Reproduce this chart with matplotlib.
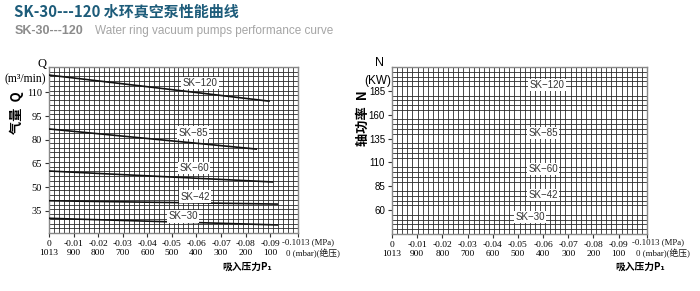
import matplotlib
matplotlib.use('Agg')
import matplotlib.pyplot as plt
import numpy as np

# ---------------- data ----------------
models = ['SK-120', 'SK-85', 'SK-60', 'SK-42', 'SK-30']
# suction pressure (MPa, gauge) at start / end of each Q curve
p_start = [0.0, 0.0, 0.0, 0.0, 0.0]
p_end = [-0.0895, -0.0843, -0.0909, -0.0929, -0.0929]
# capacity Q (m3/min) at start / end
q_start = [120.9, 86.8, 60.2, 41.4, 30.3]
q_end = [104.4, 74.1, 53.3, 39.3, 26.1]

mpa_ticks = [0, -0.01, -0.02, -0.03, -0.04, -0.05, -0.06, -0.07, -0.08, -0.09]
mpa_labels = ['0', '-0.01', '-0.02', '-0.03', '-0.04', '-0.05', '-0.06', '-0.07', '-0.08', '-0.09']
mbar_labels = ['1013', '900', '800', '700', '600', '500', '400', '300', '200', '100']
p_min = -0.1013
q_ticks = [35, 50, 65, 80, 95, 110]
n_ticks = [60, 85, 110, 135, 160, 185]

# label positions (layout)
q_label_pos = [(-0.0614, 115.9), (-0.0586, 84.3), (-0.059, 62.1), (-0.0594, 43.8), (-0.0545, 31.6)]
n_label_pos = [(-0.0616, 191.1), (-0.060, 140.8), (-0.060, 103.1), (-0.060, 75.9), (-0.0548, 52.8)]

W, H = 700, 291
fig = plt.figure(figsize=(W / 100, H / 100), dpi=100)

cjk = ['Noto Sans CJK SC', 'DejaVu Sans']
serif = ['Liberation Serif', 'DejaVu Serif']
serif_cjk = ['Liberation Serif', 'Noto Sans CJK SC', 'DejaVu Sans']
sans = ['Liberation Sans', 'DejaVu Sans']

def px(x, y):
    return x / W, 1 - y / H

ax1 = fig.add_axes([49 / W, 1 - 233 / H, 249 / W, 166 / H])
ax2 = fig.add_axes([392 / W, 1 - 234 / H, 255 / W, 167 / H])

def setup(ax, ylim, ystep, yticks, yfont, yfs):
    ax.set_xlim(0, p_min)
    ax.set_ylim(*ylim)
    ax.set_xticks(np.linspace(0, p_min, 51), minor=True)
    ax.set_yticks(np.arange(ylim[0], ylim[1] + 0.01, ystep), minor=True)
    ax.grid(which='minor', color='#2a2a2a', lw=0.6)
    ax.grid(which='major', visible=False)
    ax.tick_params(which='minor', length=0)
    ax.set_xticks(mpa_ticks + [p_min])
    ax.set_xticklabels([f'{a}\n{b}' for a, b in zip(mpa_labels, mbar_labels)] + [''],
                       fontfamily=serif, fontsize=6.8, linespacing=1.25)
    ax.set_yticks(yticks)
    ax.set_yticklabels([str(t) for t in yticks], fontfamily=yfont, fontsize=yfs)
    ax.tick_params(which='major', length=3, width=0.8, color='#333', pad=2)
    for s in ax.spines.values():
        s.set_color('#888888')
        s.set_linewidth(1.0)
    ax.set_axisbelow(True)

setup(ax1, (21, 126), 3, q_ticks, serif, 7.5)
setup(ax2, (35, 210), 5, n_ticks, sans, 7)

# last tick labels (text after the axis end)
for x0 in (282, 632):
    fig.text(*px(x0, 242), '-0.1013 (MPa)', fontfamily=serif, fontsize=6.3,
             ha='left', va='center', color='#111')
    fig.text(*px(x0 + 4, 254), '0 (mbar)(绝压)', fontfamily=serif_cjk, fontsize=6.3,
             ha='left', va='center', color='#111')

# Q curves
for m, ps, pe, qs, qe in zip(models, p_start, p_end, q_start, q_end):
    ax1.plot([ps, pe], [qs, qe], color='#111', lw=1.2, zorder=3)

box = dict(boxstyle='square,pad=0.15', fc='white', ec='none')
for m, (x, y) in zip(models, q_label_pos):
    ax1.text(x, y, m.replace('-', '\u2212'), ha='center', va='center', fontsize=7,
             fontfamily=sans, color='#333', bbox=box, zorder=4)
for m, (x, y) in zip(models, n_label_pos):
    ax2.text(x, y, m.replace('-', '\u2212'), ha='center', va='center', fontsize=7,
             fontfamily=sans, color='#333', bbox=box, zorder=4)

# titles
fig.text(*px(14, 12), 'SK-30---120 水环真空泵性能曲线', fontfamily=cjk, fontsize=10.8,
         fontweight='bold', color='#1d5c7a', ha='left', va='center')
fig.text(*px(15, 31), 'SK-30---120', fontfamily=sans, fontsize=9, fontweight='bold',
         color='#8c8c8c', ha='left', va='center')
fig.text(*px(95, 31), 'Water ring vacuum pumps performance curve', fontfamily=sans,
         fontsize=8.5, color='#a5a5a5', ha='left', va='center')

# axis captions
fig.text(*px(46, 64), 'Q', fontfamily=serif, fontsize=9, ha='right', va='center')
fig.text(*px(46, 79), '(m³/min)', fontfamily=serif, fontsize=8.5, ha='right', va='center')
fig.text(*px(17, 113), '气量  Q', fontfamily=cjk, fontsize=9.5, fontweight='bold',
         rotation=90, ha='center', va='center')
fig.text(*px(379, 63), 'N', fontfamily=sans, fontsize=9, ha='center', va='center')
fig.text(*px(391, 81), '(KW)', fontfamily=sans, fontsize=8.5, ha='right', va='center')
fig.text(*px(363, 118), '轴功率  N', fontfamily=cjk, fontsize=9.5, fontweight='bold',
         rotation=90, ha='center', va='center')

fig.text(*px(247, 267), '吸入压力P₁', fontfamily=cjk, fontsize=7, fontweight='bold',
         ha='center', va='center')
fig.text(*px(640, 267), '吸入压力P₁', fontfamily=cjk, fontsize=7, fontweight='bold',
         ha='center', va='center')

fig.savefig('out.png', dpi=100)
